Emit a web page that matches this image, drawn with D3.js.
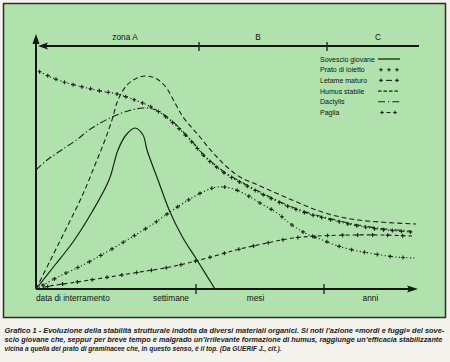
<!DOCTYPE html>
<html>
<head>
<meta charset="utf-8">
<script src="https://cdn.jsdelivr.net/npm/d3@7"></script>
<style>
	html, body { margin: 0; padding: 0; background: #f4f2ec; }
	svg { display: block; }
</style>
</head>
<body>
<svg id="chart" width="450" height="362"></svg>
<script>
// values: [time unit, stability]
var sovescio = [[0,0],[4.75,9.6],[9.25,18.8],[14,30.8],[18.25,43.6],[20.5,55.6],[22.5,61.6],[24.75,64.4],[26.75,61.6],[27.75,55.6],[30.5,43.6],[33.5,30.8],[36.75,20.4],[40.25,11.6],[44.75,0]];
var prato = [[0,87.6],[4.25,84.4],[7.75,82.4],[11.75,80.8],[16,79.2],[20.25,78],[26,74.8],[29.25,72.4],[34,66.8],[38.5,59.6],[42.25,52.8],[46.75,46.8],[52.25,41.6],[58,36.8],[64,32.4],[69,29.6],[74,27.6],[79.25,25.6],[85.25,24],[90.25,23.2],[94,22.8]];
var letame = [[0,0],[3.5,1.2],[8.5,2.4],[16.75,4.4],[26,6.8],[33.5,8.8],[41,11.6],[47.25,14.4],[51,16],[57.75,18.4],[64.25,20.4],[70.5,21.2],[79,21.6],[86.5,21.6],[94,21.2]];
var humus = [[0,0],[3.5,11.2],[7.25,23.2],[11.75,38],[15.25,51.6],[17.25,59.6],[19,67.6],[20.5,75.6],[22.75,81.6],[25.25,84.4],[27.25,85.2],[29.75,84.4],[32.25,81.2],[34.75,74.4],[36.75,68.8],[39,64.4],[41,60.8],[43,56.8],[45.25,52.8],[47.75,48.8],[51,44.8],[55.5,41.6],[64,35.6],[72.25,30.4],[80.5,27.6],[95,26]];
var dactylis = [[0,47.6],[2.75,51.6],[6,55.2],[9.75,59.2],[14,64.4],[19,68.8],[23,71.2],[26.75,72.4],[30,71.6],[34,67.2],[38.5,60],[42.25,53.2],[46.75,47.2],[52.25,42],[58,37.2],[64,32.8],[69,30],[74,28],[79.25,26],[85.25,24.4],[90.25,23.6],[93.5,23.2]];
var paglia = [[0,0],[6,5.2],[11.75,9.6],[17.25,14.4],[22.75,19.6],[28.5,25.2],[33.5,30.8],[38.5,36],[42.25,39.2],[45.25,40.8],[48.5,40.4],[51.75,38.4],[56,34.4],[60.25,30.4],[64,25.6],[67.75,22],[71,20],[74.75,17.6],[79.25,15.6],[84.75,14],[89.75,12.8],[94.75,12.4]];

var legendLabels = ["Sovescio giovane", "Prato di loietto", "Letame maturo", "Humus stabile", "Dactylis", "Paglia"];
var zoneLabels = ["zona A", "B", "C"];
var zoneAt = [22.25, 55.5, 85.5];
var timeLabels = ["data di interramento", "settimane", "mesi", "anni"];
var timeAt = [0, 33.75, 54.9, 83.6];
var topBreaks = [40.75, 72.75];
var bottomBreaks = [40, 72];
var captionLines = [
	"Grafico 1 -  Evoluzione della stabilità strutturale indotta da diversi materiali organici. Si noti l’azione «mordi e fuggi» del sove-",
	"scio giovane che, seppur per breve tempo e malgrado un’irrilevante formazione di humus, raggiunge un’efficacia stabilizzante",
	"vicina a quella del prato di graminacee che, in questo senso, è il top. (Da GUERIF J., cit.)."
];
var captionWidths = [440, 438, 277];

var ink = "#1b241b",
	font = "'Liberation Sans', Arial, sans-serif";

var svg = d3.select("#chart");

var x = d3.scaleLinear().domain([0, 95]).range([36, 416]),
	y = d3.scaleLinear().domain([0, 100]).range([289, 39]);

var line = d3.line()
	.x(function (d) { return x(d[0]); })
	.y(function (d) { return y(d[1]); })
	.curve(d3.curveCatmullRom.alpha(0.5));

// panel
svg.append("rect")
	.attr("x", 3.5)
	.attr("y", 3.5)
	.attr("width", 442)
	.attr("height", 314)
	.attr("fill", "#b1e2ad")
	.attr("stroke", "#2a2f2a")
	.attr("stroke-width", 1.5);

// axes
var axes = svg.append("g")
	.attr("stroke", "#141814")
	.attr("stroke-width", 2)
	.attr("fill", "none");

axes.append("line")
	.attr("x1", x(0)).attr("y1", y(0))
	.attr("x2", x(0)).attr("y2", 40);
axes.append("line")
	.attr("x1", x(0)).attr("y1", y(0))
	.attr("x2", 410).attr("y2", y(0));
axes.append("line")
	.attr("x1", 44).attr("y1", 46)
	.attr("x2", 419).attr("y2", 46);

topBreaks.forEach(function (t) {
	axes.append("line")
		.attr("x1", x(t)).attr("y1", 42)
		.attr("x2", x(t)).attr("y2", 51)
		.attr("stroke-width", 1.3);
});
bottomBreaks.forEach(function (t) {
	axes.append("line")
		.attr("x1", x(t)).attr("y1", 284)
		.attr("x2", x(t)).attr("y2", 294)
		.attr("stroke-width", 1.3);
});

var heads = svg.append("g").attr("fill", "#141814");
heads.append("path").attr("d", "M36,34 L32.5,44 L39.5,44 Z");
heads.append("path").attr("d", "M38,46 L48,42.5 L46,46 L48,49.5 Z");
heads.append("path").attr("d", "M418,289 L407,285.5 L409,289 L407,292.5 Z");

// labels on the time axes
var lab = svg.append("g")
	.attr("font-family", font)
	.attr("font-size", 8.3)
	.attr("fill", "#111");

zoneLabels.forEach(function (s, i) {
	lab.append("text")
		.attr("x", x(zoneAt[i]))
		.attr("y", 40)
		.attr("text-anchor", "middle")
		.text(s);
});
timeLabels.forEach(function (s, i) {
	lab.append("text")
		.attr("x", x(timeAt[i]))
		.attr("y", 301)
		.attr("text-anchor", i == 0 ? "start" : "middle")
		.text(s);
});

// curves
var curves = svg.append("g")
	.attr("fill", "none")
	.attr("stroke", ink)
	.attr("stroke-width", 1.1);

function crossesAlong(node, step, offset) {
	var len = node.getTotalLength(), pts = [], s;
	for (s = offset; s <= len; s += step) {
		pts.push(node.getPointAtLength(s));
	}
	return pts;
}

function addCrosses(g, pts, r) {
	g.selectAll(null)
		.data(pts)
		.enter().append("path")
		.attr("d", function (p) {
			return "M" + (p.x - r) + "," + p.y + "H" + (p.x + r) +
				"M" + p.x + "," + (p.y - r) + "V" + (p.y + r);
		})
		.attr("stroke-width", 1.1);
}

curves.append("path")
	.attr("d", line(sovescio))
	.attr("stroke-width", 1.2);

curves.append("path")
	.attr("d", line(humus))
	.attr("stroke-dasharray", "5,3");

curves.append("path")
	.attr("d", line(dactylis))
	.attr("stroke-dasharray", "7,2.5,1.3,2.5");

var pratoPath = curves.append("path")
	.attr("d", line(prato))
	.attr("stroke-dasharray", "1.2,2.6");
addCrosses(curves, crossesAlong(pratoPath.node(), 9, 4), 2);

var pagliaPath = curves.append("path")
	.attr("d", line(paglia))
	.attr("stroke-dasharray", "1.2,2.4");
addCrosses(curves, crossesAlong(pagliaPath.node(), 13, 8), 2);

var letamePath = curves.append("path")
	.attr("d", line(letame))
	.attr("stroke-dasharray", "4,3");
addCrosses(curves, crossesAlong(letamePath.node(), 15, 12), 2);

// legend
var leg = svg.append("g")
	.attr("font-family", font)
	.attr("font-size", 7)
	.attr("fill", "#111");

var legRow = function (i) { return 59 + i * 10.7; };

legendLabels.forEach(function (s, i) {
	leg.append("text")
		.attr("x", 320)
		.attr("y", legRow(i) + 2.5)
		.text(s);
});

var samp = leg.append("g")
	.attr("fill", "none")
	.attr("stroke", ink)
	.attr("stroke-width", 1.1);

samp.append("line")
	.attr("x1", 378).attr("x2", 400)
	.attr("y1", legRow(0)).attr("y2", legRow(0))
	.attr("stroke-width", 1.3);
addCrosses(samp, [{x: 381, y: legRow(1)}, {x: 389, y: legRow(1)}, {x: 397, y: legRow(1)}], 1.8);
addCrosses(samp, [{x: 381, y: legRow(2)}, {x: 397, y: legRow(2)}], 1.8);
samp.append("line")
	.attr("x1", 386).attr("x2", 392)
	.attr("y1", legRow(2)).attr("y2", legRow(2));
samp.append("line")
	.attr("x1", 378).attr("x2", 400)
	.attr("y1", legRow(3)).attr("y2", legRow(3))
	.attr("stroke-dasharray", "3.5,2");
samp.append("line")
	.attr("x1", 378).attr("x2", 400)
	.attr("y1", legRow(4)).attr("y2", legRow(4))
	.attr("stroke-dasharray", "7,3,1.3,3");
addCrosses(samp, [{x: 382, y: legRow(5)}, {x: 395, y: legRow(5)}], 1.8);
samp.append("line")
	.attr("x1", 386.5).attr("x2", 390.5)
	.attr("y1", legRow(5)).attr("y2", legRow(5));

// caption, squeezed horizontally to the printed line widths
var cap = svg.append("g")
	.attr("font-family", font)
	.attr("font-size", 7.6)
	.attr("font-weight", "bold")
	.attr("font-style", "italic")
	.attr("fill", "#1a1a24");

captionLines.forEach(function (s, i) {
	var g = cap.append("g"),
		t = g.append("text")
			.attr("x", 0)
			.attr("y", 0)
			.text(s),
		w = t.node().getComputedTextLength();
	g.attr("transform", "translate(4.5," + (333 + i * 9) + ") scale(" + (captionWidths[i] / w) + ",1)");
});
</script>
</body>
</html>
